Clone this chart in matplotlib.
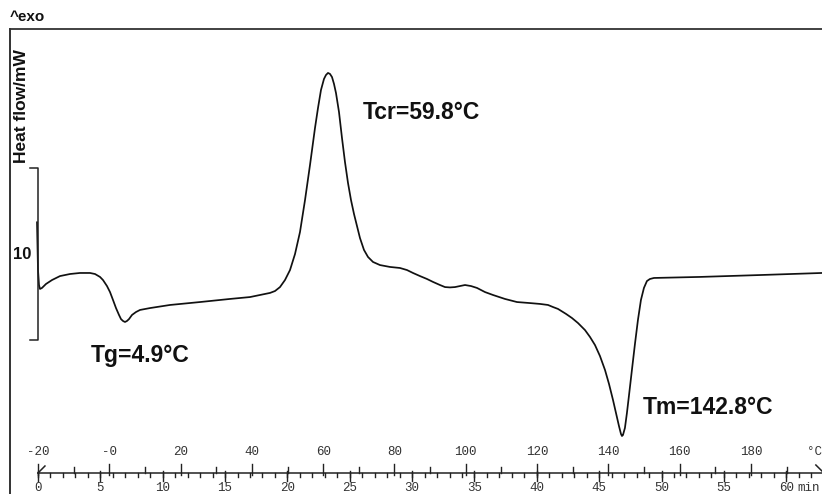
import matplotlib
matplotlib.use("Agg")
import matplotlib.pyplot as plt
import matplotlib.transforms as mtransforms
from matplotlib.lines import Line2D

# ---------------- data ----------------
temperature_c = [-20.28, -20.00, -19.72, -19.44, -18.88, -17.76, -16.07, -13.83, -11.02, -8.22,
                 -5.41, -4.01, -2.61, -1.77, -0.65, 0.20, 1.04, 1.88, 2.72, 3.28,
                 3.84, 4.40, 4.96, 5.53, 6.37, 7.49, 8.61, 11.42, 17.03, 25.44,
                 33.86, 39.47, 42.27, 43.67, 45.08, 46.48, 47.88, 49.28, 50.69, 52.09,
                 53.49, 54.90, 56.30, 57.70, 58.54, 59.38, 60.22, 60.78, 61.35, 61.91,
                 62.47, 63.03, 63.59, 64.43, 65.27, 66.11, 66.96, 67.80, 68.64, 69.48,
                 70.32, 71.44, 72.57, 73.97, 75.93, 78.74, 81.54, 83.51, 85.19, 87.15,
                 89.12, 90.80, 92.76, 94.17, 95.57, 96.97, 98.37, 99.78, 101.46, 103.14,
                 105.39, 107.63, 110.99, 114.36, 118.01, 120.81, 123.06, 124.46, 125.86, 128.11,
                 129.79, 131.47, 133.44, 134.84, 136.24, 137.64, 139.05, 140.17, 141.29, 142.13,
                 142.97, 143.53, 143.81, 144.09, 144.64, 145.20, 145.76, 146.60, 147.45, 148.29,
                 149.13, 149.97, 150.81, 151.65, 152.78, 165.69, 182.52, 199.92]
heat_flow_mw = [15.81, 13.02, 12.15, 11.92, 11.98, 12.21, 12.44, 12.67, 12.79, 12.85,
                12.85, 12.79, 12.62, 12.44, 12.09, 11.74, 11.28, 10.81, 10.41, 10.17,
                10.06, 10.00, 10.06, 10.17, 10.41, 10.58, 10.70, 10.81, 10.99, 11.16,
                11.34, 11.45, 11.57, 11.63, 11.69, 11.80, 12.03, 12.44, 13.02, 13.95,
                15.23, 17.09, 19.13, 21.28, 22.44, 23.49, 24.13, 24.36, 24.48, 24.42,
                24.24, 23.84, 23.31, 22.21, 20.70, 19.30, 18.08, 17.09, 16.28, 15.58,
                14.88, 14.19, 13.78, 13.49, 13.31, 13.20, 13.14, 13.02, 12.85, 12.67,
                12.50, 12.33, 12.15, 12.03, 12.01, 12.03, 12.09, 12.15, 12.09, 11.98,
                11.74, 11.57, 11.34, 11.16, 11.10, 11.05, 10.99, 10.87, 10.76, 10.47,
                10.23, 9.94, 9.53, 9.13, 8.66, 8.02, 7.21, 6.40, 5.47, 4.71,
                3.95, 3.49, 3.37, 3.43, 3.84, 4.71, 5.70, 7.21, 8.72, 10.12,
                11.28, 11.98, 12.38, 12.50, 12.56, 12.62, 12.73, 12.85]

temp_major_ticks = [-20, 0, 20, 40, 60, 80, 100, 120, 140, 160, 180]
temp_major_labels = ["-20", "-0", "20", "40", "60", "80", "100", "120", "140", "160", "180"]
temp_minor_ticks = [-10, 10, 30, 50, 70, 90, 110, 130, 150, 170, 190]
time_major_ticks = [0, 5, 10, 15, 20, 25, 30, 35, 40, 45, 50, 55, 60]
time_major_labels = ["0", "5", "10", "15", "20", "25", "30", "35", "40", "45", "50", "55", "60"]
time_minor_ticks = list(range(0, 63))

annotations = [("Tg=4.9°C", -5.3, 8.05), ("Tcr=59.8°C", 71.2, 22.2), ("Tm=142.8°C", 149.7, 5.0)]
scale_bar_mw = 10
scale_bar_bottom = 8.95

# ---------------- figure ----------------
W, H = 822, 494
fig = plt.figure(figsize=(W / 100, H / 100), dpi=100)
ax = fig.add_axes([0, 0, 1, 1])
ax.set_xlim(-30.66, 199.92)
ax.set_ylim(0, 28.72)
ax.axis("off")

ax_t = ax.twiny()
ax_t.set_xlim(-3.047, 62.87)
ax_t.axis("off")

ink = "#111111"
bold = dict(family=["Liberation Sans", "DejaVu Sans"], weight="bold", color=ink)
mono = dict(family=["Liberation Mono", "DejaVu Sans Mono"], color="#333333", fontsize=9)

# frame (left and top)
fig.add_artist(Line2D([10 / W, 10 / W], [0, (H - 29) / H], color="#222222", lw=1.3,
                      transform=fig.transFigure))
fig.add_artist(Line2D([10 / W, 1.0], [(H - 29) / H, (H - 29) / H], color="#333333", lw=1.3,
                      transform=fig.transFigure))

# curve
ax.plot(temperature_c, heat_flow_mw, color=ink, lw=1.25, solid_joinstyle="round",
        solid_capstyle="round")

# scale bar
xb = -20.1
xb2 = -22.2
ax.plot([xb2, xb, xb, xb2], [scale_bar_bottom + scale_bar_mw, scale_bar_bottom + scale_bar_mw,
                             scale_bar_bottom, scale_bar_bottom], color="#222222", lw=1.1)
ax.text(-24.3, scale_bar_bottom + scale_bar_mw / 2, str(scale_bar_mw), ha="center", va="center",
        fontsize=12, **bold)

# labels
fig.text(21 / W, 1 - 106 / H, "Heat flow/mW", rotation=90, ha="center", va="center",
         fontsize=12.5, **bold)
fig.text(10 / W, 1 - 17 / H, "^exo", ha="left", va="center", fontsize=11, **bold)

for txt, x, y in annotations:
    ax.text(x, y, txt, ha="left", va="center", fontsize=16.5, **bold)

# bottom dual axis
axis_y = (H - 473) / H
px = 1.0 / H
tr = mtransforms.blended_transform_factory(ax.transData, ax.transAxes)
tr_t = mtransforms.blended_transform_factory(ax_t.transData, ax_t.transAxes)

ax.plot([-20, 199.92], [axis_y, axis_y], color="#222222", lw=1.1, transform=tr, clip_on=False)
for t in temp_major_ticks:
    ax.plot([t, t], [axis_y - 2 * px, axis_y + 9 * px], color="#222222", lw=1.0, transform=tr)
for t in temp_minor_ticks:
    ax.plot([t, t], [axis_y, axis_y + 6 * px], color="#222222", lw=1.0, transform=tr)
for t, lab in zip(temp_major_ticks, temp_major_labels):
    ax.text(t, axis_y + 21 * px, lab, ha="center", va="center", transform=tr, **mono)
ax.text(199.9, axis_y + 21 * px, "°C", ha="right", va="center", transform=tr, **mono)

for m in time_minor_ticks:
    ax_t.plot([m, m], [axis_y, axis_y - 4 * px], color="#222222", lw=1.0, transform=tr_t)
for m in time_major_ticks:
    ax_t.plot([m, m], [axis_y + 2 * px, axis_y - 8 * px], color="#222222", lw=1.0, transform=tr_t)
for m, lab in zip(time_major_ticks, time_major_labels):
    ax_t.text(m, axis_y - 15 * px, lab, ha="center", va="center", transform=tr_t, **mono)
ax_t.annotate("min", xy=(time_major_ticks[-1], axis_y - 15 * px), xycoords=tr_t,
              xytext=(8, 0), textcoords="offset points", ha="left", va="center", **mono)

# slanted start / end marks
ax.plot([-20, -18.05], [axis_y, axis_y + 7 * px], color="#222222", lw=1.1, transform=tr)
ax.plot([198.2, 199.9], [axis_y + 8 * px, axis_y + 2 * px], color="#222222", lw=1.1,
        transform=tr, clip_on=False)

fig.savefig("out.png", dpi=100, facecolor="white")
